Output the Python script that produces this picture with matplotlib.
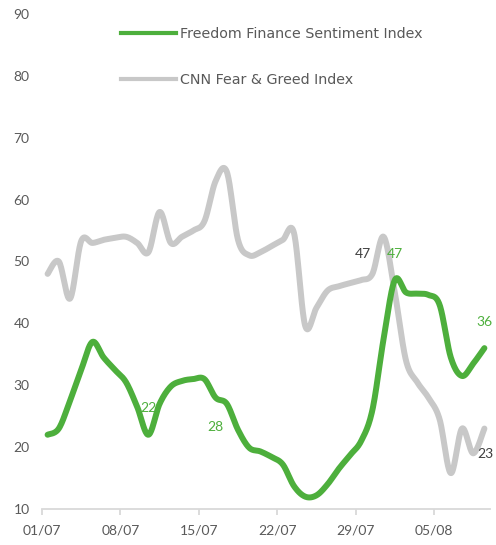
import numpy as np
import matplotlib
matplotlib.use("Agg")
import matplotlib.pyplot as plt
from matplotlib.lines import Line2D

# ---- data (daily, 01/07 .. 09/08) ----
day_index = list(range(40))
freedom = [22, 23, 27.5, 32.5, 37, 34.5, 32.5, 30.5, 26.5, 22,
           27, 29.8, 30.7, 31, 31, 28, 27, 22.8, 19.9, 19.3,
           18.4, 17.2, 13.7, 12, 12.2, 14, 16.5, 18.7, 21, 26,
           37.5, 47, 45, 44.8, 44.6, 43, 34.5, 31.5, 33.5, 36]
cnn = [48, 50, 44, 53.3, 53, 53.5, 53.8, 54, 53, 51.5,
       58, 53, 54, 55, 56.5, 63, 64.5, 53.5, 51, 51.5,
       52.5, 53.5, 54.6, 39.6, 42.5, 45.3, 46, 46.5, 47, 48,
       54, 45, 34, 30.5, 28, 24.5, 15.8, 23, 19, 23]
tick_labels = ["01/07", "08/07", "15/07", "22/07", "29/07", "05/08"]
tick_every = 7
series_names = ["Freedom Finance Sentiment Index", "CNN Fear & Greed Index"]
# labelled points: (index, above?)
freedom_labels = [(9, True), (15, False), (31, True), (39, True)]
cnn_labels = [(28, True), (39, False)]

GREEN = "#4DAF3C"
GREY = "#C8C8C8"
TXT = "#595959"
DARK = "#404040"

plt.rcParams["font.family"] = ["Lato", "DejaVu Sans"]


def smooth(x, y, n=20):
    x = np.asarray(x, float)
    y = np.asarray(y, float)
    xs, ys = [], []
    N = len(x)
    for i in range(N - 1):
        p0 = np.array([x[max(i - 1, 0)], y[max(i - 1, 0)]])
        p1 = np.array([x[i], y[i]])
        p2 = np.array([x[i + 1], y[i + 1]])
        p3 = np.array([x[min(i + 2, N - 1)], y[min(i + 2, N - 1)]])
        c1 = p1 + (p2 - p0) / 6.0
        c2 = p2 - (p3 - p1) / 6.0
        t = np.linspace(0, 1, n, endpoint=(i == N - 2))[:, None]
        pts = ((1 - t) ** 3) * p1 + 3 * ((1 - t) ** 2) * t * c1 + 3 * (1 - t) * t ** 2 * c2 + t ** 3 * p2
        xs.append(pts[:, 0])
        ys.append(pts[:, 1])
    return np.concatenate(xs), np.concatenate(ys)


fig = plt.figure(figsize=(4.96, 5.45), dpi=100)
ax = fig.add_axes([42 / 496, 36 / 545, 448 / 496, 495 / 545])

lw = 4.3
sx, sy = smooth(day_index, cnn)
ax.plot(sx, sy, color=GREY, lw=lw, solid_capstyle="round", solid_joinstyle="round", zorder=2)
sx, sy = smooth(day_index, freedom)
ax.plot(sx, sy, color=GREEN, lw=lw, solid_capstyle="round", solid_joinstyle="round", zorder=3)

for i, above in freedom_labels:
    ax.annotate(f"{freedom[i]:.0f}", (day_index[i], freedom[i]), xytext=(0, 19 if above else -21),
                textcoords="offset points", ha="center", va="center", color=GREEN, fontsize=10, zorder=5)
for i, above in cnn_labels:
    ax.annotate(f"{cnn[i]:.0f}", (day_index[i], cnn[i]), xytext=(1, 19 if above else -18),
                textcoords="offset points", ha="center", va="center", color=DARK, fontsize=10, zorder=5)

ax.set_xlim(-0.5, len(day_index) - 0.5)
ax.set_ylim(10, 90)
ax.set_yticks(range(10, 91, 10))
ticks = [-0.5 + tick_every * k for k in range(len(tick_labels))]
ax.set_xticks(ticks)
ax.set_xticklabels(tick_labels)

for s in ["left", "right", "top"]:
    ax.spines[s].set_visible(False)
ax.spines["bottom"].set_color("#D9D9D9")
ax.spines["bottom"].set_linewidth(1.3)
ax.tick_params(axis="y", length=0, pad=9, labelsize=10, labelcolor=TXT)
ax.tick_params(axis="x", length=4, width=1.3, color="#D9D9D9", pad=7, labelsize=10, labelcolor=TXT)

handles = [Line2D([], [], color=GREEN, lw=3), Line2D([], [], color=GREY, lw=3)]
ax.legend(handles, series_names, loc="upper left", bbox_to_anchor=(121 / 496, 1 - 27 / 545),
          bbox_transform=fig.transFigure, frameon=False, handlelength=3.85, handletextpad=0.3,
          labelspacing=2.25, prop={"family": ["DejaVu Sans"], "size": 10.3}, labelcolor=TXT,
          borderpad=0, borderaxespad=0)

fig.savefig("out.png", dpi=100)
